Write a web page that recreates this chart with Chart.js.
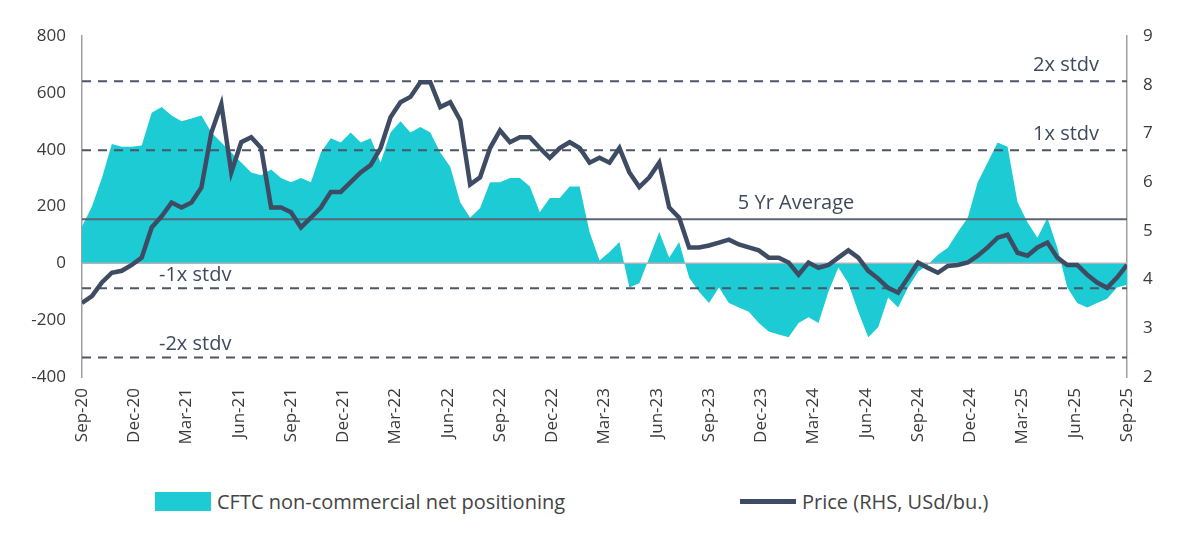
<!DOCTYPE html>
<html>
<head>
<meta charset="utf-8">
<script src="https://cdn.jsdelivr.net/npm/chart.js@4"></script>
<style>
  body { margin: 0; background: #fff; font-family: "Open Sans", sans-serif; }
  #wrap { position: relative; width: 1200px; height: 470px; }
  .legend { position: absolute; top: 488px; font-size: 20px; color: #444; display: flex; align-items: center; }
  .swatch { width: 56px; height: 19px; background: #1ccbd3; margin-right: 6px; }
  .lineswatch { width: 56px; height: 5px; background: #3e4c63; margin-right: 6px; }
</style>
</head>
<body>
<div id="wrap"><canvas id="c"></canvas></div>
<div class="legend" style="left:155px"><div class="swatch"></div>CFTC non-commercial net positioning</div>
<div class="legend" style="left:740px"><div class="lineswatch"></div>Price (RHS, USd/bu.)</div>
<script>
// --- Datos ---
const tickLabels = ['Sep-20','Dec-20','Mar-21','Jun-21','Sep-21','Dec-21','Mar-22','Jun-22','Sep-22','Dec-22',
  'Mar-23','Jun-23','Sep-23','Dec-23','Mar-24','Jun-24','Sep-24','Dec-24','Mar-25','Jun-25','Sep-25'];

const positioning = [130,200,300,420,410,410,415,530,550,520,
  500,510,520,460,425,390,355,320,310,330,
  300,285,300,285,390,440,425,460,425,440,
  355,460,500,460,480,460,390,340,215,160,
  195,285,285,300,300,270,180,230,230,270,
  270,110,10,40,75,-85,-70,20,110,20,
  75,-50,-100,-140,-85,-140,-155,-170,-210,-240,
  -250,-260,-210,-190,-210,-100,-15,-70,-170,-260,
  -225,-120,-155,-85,-30,-5,30,55,110,160,
  285,355,425,410,215,145,90,160,55,-85,
  -140,-155,-140,-125,-85,-75];

const price = [3.52,3.66,3.94,4.14,4.18,4.3,4.45,5.07,5.3,5.58,
  5.48,5.58,5.89,7.02,7.6,6.2,6.82,6.92,6.7,5.48,
  5.48,5.38,5.07,5.27,5.48,5.8,5.8,6.0,6.2,6.35,
  6.7,7.33,7.64,7.75,8.05,8.05,7.54,7.64,7.27,5.95,
  6.1,6.7,7.06,6.82,6.92,6.92,6.7,6.5,6.7,6.82,
  6.7,6.4,6.5,6.4,6.7,6.2,5.9,6.1,6.4,5.48,
  5.27,4.66,4.66,4.7,4.76,4.82,4.72,4.66,4.6,4.45,
  4.45,4.35,4.1,4.35,4.24,4.3,4.45,4.6,4.45,4.18,
  4.02,3.83,3.73,4.04,4.35,4.24,4.14,4.28,4.3,4.35,
  4.49,4.66,4.86,4.92,4.55,4.49,4.66,4.76,4.45,4.3,
  4.3,4.1,3.94,3.83,4.04,4.3];

// Niveles de referencia (eje izquierdo)
const refLevels = [641, 398, 155, -88, -331];
const refNames = ['2x stdv', '1x stdv', '5 Yr Average', '-1x stdv', '-2x stdv'];

const totalMonths = 60;
const n = positioning.length;
const pts = arr => arr.map((v, i) => ({ x: i * totalMonths / (n - 1), y: v }));
const flat = v => [{ x: 0, y: v }, { x: totalMonths, y: v }];

const refDatasets = refLevels.map((v, i) => ({
  type: 'line', data: flat(v), yAxisID: 'y',
  borderColor: i === 2 ? '#5b6472' : '#4b5666',
  borderWidth: 2, borderDash: i === 2 ? [] : [9, 7],
  pointRadius: 0, order: 1
}));

// Posición de las etiquetas de referencia (x en meses)
const labelX = [56.5, 56.5, 41, 6.5, 6.5];
const labelPlugin = {
  id: 'refLabels',
  afterDatasetsDraw(chart) {
    const { ctx, scales: { x, y } } = chart;
    ctx.save();
    ctx.font = '20px "Open Sans"';
    ctx.fillStyle = '#3e4a5c';
    ctx.textAlign = 'center';
    ctx.textBaseline = 'bottom';
    refNames.forEach((name, i) => {
      ctx.fillText(name, x.getPixelForValue(labelX[i]), y.getPixelForValue(refLevels[i]) + (i >= 3 ? -3 : -6));
    });
    ctx.restore();
  }
};

new Chart(document.getElementById('c'), {
  type: 'line',
  data: {
    datasets: [
      { data: pts(price), yAxisID: 'y1', borderColor: '#3e4c63', borderWidth: 4.5,
        pointRadius: 0, tension: 0, fill: false, order: 0 },
      ...refDatasets,
      { data: flat(0), yAxisID: 'y', borderColor: '#b0b4ba', borderWidth: 1.5, pointRadius: 0, order: 2 },
      { data: pts(positioning), yAxisID: 'y', borderWidth: 0, borderColor: 'rgba(0,0,0,0)',
        backgroundColor: '#1ccbd3', fill: 'origin', pointRadius: 0, tension: 0, order: 3 }
    ]
  },
  options: {
    responsive: true, maintainAspectRatio: false, animation: false,
    layout: { padding: { top: 36, right: 0, left: 0, bottom: 0 } },
    plugins: { legend: { display: false }, tooltip: { enabled: false } },
    scales: {
      x: {
        type: 'linear', min: 0, max: totalMonths,
        grid: { display: false },
        border: { display: false },
        ticks: { stepSize: 3, maxRotation: 90, minRotation: 90, color: '#3a3a3a',
          font: { size: 17, family: 'Open Sans' },
          callback: v => tickLabels[v / 3] },
        afterFit: s => { s.height = 93; }
      },
      y: {
        position: 'left', min: -400, max: 800,
        grid: { display: false },
        border: { color: '#a0a0a0', width: 1.5 },
        ticks: { stepSize: 200, color: '#3a3a3a', font: { size: 17, family: 'Open Sans' }, padding: 8 },
        afterFit: s => { s.width = 82; }
      },
      y1: {
        position: 'right', min: 2, max: 9,
        grid: { display: false },
        border: { color: '#a0a0a0', width: 1.5 },
        ticks: { stepSize: 1, color: '#3a3a3a', font: { size: 17, family: 'Open Sans' }, padding: 8 },
        afterFit: s => { s.width = 73; }
      }
    }
  },
  plugins: [labelPlugin]
});
</script>
</body>
</html>
